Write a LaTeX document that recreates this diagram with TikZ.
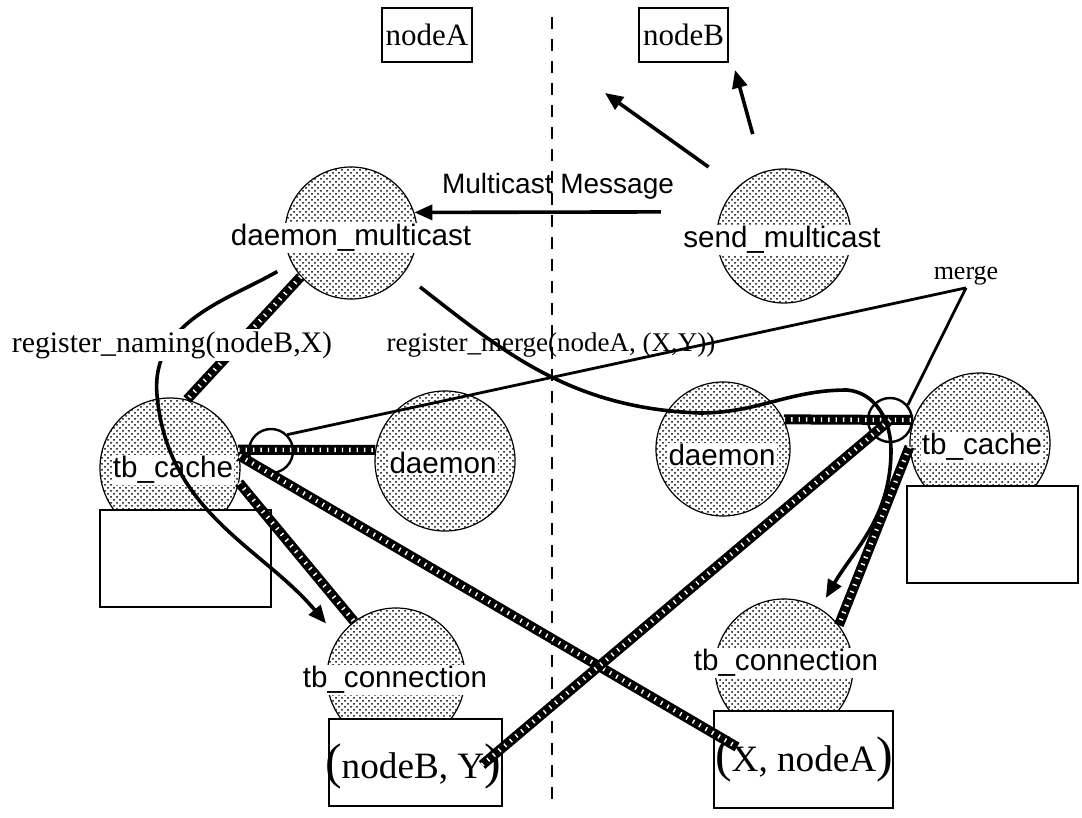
\documentclass[tikz,border=0pt]{standalone}
\usepackage{fontspec}
\setmainfont{Liberation Serif}
\setsansfont{Liberation Sans}
\usetikzlibrary{arrows.meta,patterns}

\tikzset{
  proc/.style={circle, draw, line width=0.6pt, inner sep=0pt, minimum size=#1,
    preaction={fill=white}, pattern=crosshatch dots, pattern color=black},
  proc/.default=70pt,
  plabel/.style={fill=white, inner sep=0.6pt, font=\sffamily\fontsize{14.8}{16}\selectfont},
  store/.style={draw, line width=0.6pt, fill=white, inner sep=0pt},
  join/.style={circle, draw, line width=1.2pt, inner sep=0pt, minimum size=#1},
  hatch/.style={line width=5pt, postaction={draw=white, line width=2.2pt, dash pattern=on 0.7pt off 3pt}},
  flow/.style={line width=1.8pt, -{Triangle[length=9pt,width=7.5pt]}},
  link/.style={line width=1.4pt},
}
\newcommand{\bigp}[1]{{\fontsize{25}{25}\selectfont #1}}

\begin{document}
\begin{tikzpicture}[x=0.5pt,y=0.5pt]
  \useasboundingbox (0,0) rectangle (1082,-818);

  % divider
  \coordinate (divtop) at (552,-17);
  \coordinate (divbot) at (552,-808);
  \draw[line width=0.7pt, dash pattern=on 6pt off 5pt] (divtop) -- (divbot);

  % hosts
  \node[store, minimum width=45pt, minimum height=27pt, font=\fontsize{15.5}{17}\selectfont] (nodeA) at (427,-35) {nodeA};
  \node[store, minimum width=44.5pt, minimum height=27pt, font=\fontsize{15.5}{17}\selectfont] (nodeB) at (683.5,-35) {nodeB};

  % processes
  \node[proc=66pt] (dmc) at (351,-233) {};
  \node[proc=67pt] (smc) at (784,-236) {};
  \node[proc] (cacheL) at (170,-468) {};
  \node[proc] (dmnL) at (445,-461) {};
  \node[proc=67pt] (dmnR) at (723,-449) {};
  \node[proc] (cacheR) at (980,-443) {};
  \node[proc=69pt] (connL) at (396,-677) {};
  \node[proc=69pt] (connR) at (784,-668) {};

  % tables
  \node[store, minimum width=85.5pt, minimum height=48.5pt] (tabL) at (185.5,-558.5) {};
  \node[store, minimum width=85.5pt, minimum height=48.5pt] (tabR) at (992.5,-534.5) {};
  \node[store, minimum width=86.5pt, minimum height=43.5pt] (tupB) at (415.5,-762.5) {};
  \node[store, minimum width=89.5pt, minimum height=48.5pt] (tupX) at (803.5,-759.5) {};
  \node[font=\fontsize{18.6}{20}\selectfont, inner sep=0pt] (tupB-t) at (413,-766)
    {\bigp{(}nodeB, Y\bigp{)}};
  \node[font=\fontsize{18.6}{20}\selectfont, inner sep=0pt] (tupX-t) at (804,-759)
    {\bigp{(}X, nodeA\bigp{)}};

  % process names
  \node[plabel] (dmc-t) at (351,-238) {daemon\_multicast};
  \node[plabel] (smc-t) at (782,-240) {send\_multicast};
  \node[plabel] (cacheL-t) at (173,-470) {tb\_cache};
  \node[plabel] (dmnL-t) at (443,-463) {daemon};
  \node[plabel] (dmnR-t) at (722,-455) {daemon};
  \node[plabel] (cacheR-t) at (982,-447) {tb\_cache};
  \node[plabel] (connL-t) at (395,-680) {tb\_connection};
  \node[plabel] (connR-t) at (786,-663) {tb\_connection};

  % merge points
  \node[join=22pt] (joinL) at (271,-451) {};
  \node[join=22pt] (joinR) at (890,-420) {};
  \node[font=\fontsize{13}{14}\selectfont, inner sep=1pt] (mrg) at (966,-276) {merge};
  \coordinate (xa) at (737,-747);
  \coordinate (yb) at (482,-765);
  \coordinate (toA) at (605,-93);
  \coordinate (toB) at (735,-70);

  % channels
  \draw[hatch] (dmc.221) -- (cacheL.76);
  \draw[hatch] (cacheL.15) -- (dmnL.171);
  \draw[hatch] (cacheL.10) -- (xa);
  \draw[hatch] (cacheL.-12) -- (connL.127);
  \draw[hatch] (dmnR.26) -- (joinR.east);
  \draw[hatch] (joinR.center) -- (yb);
  \draw[hatch] (cacheR.183) -- (connR.38);

  % messages
  \draw[flow, shorten <=17.5pt] (smc.134) -- (toA);
  \draw[flow, shorten <=19.5pt] (smc.108) -- (toB);
  \draw[flow, shorten <=30pt] (smc.159) -- (dmc.18);
  \node[font=\sffamily\fontsize{14}{15}\selectfont] (mcm) at (558,-186) {Multicast Message};
  \draw[link] (joinL.45) -- (mrg.south);
  \draw[link] (mrg.south) -- (joinR.40);
  \draw[flow, shorten <=10.5pt, shorten >=6pt] (dmc.-38) to[out=-38,in=178] (700,-413)
    to[out=0,in=180] (847,-390) to[out=-5,in=90] (891,-450) to[out=-90,in=60] (connR.59);
  \draw[flow, shorten <=8.3pt, shorten >=9.5pt] (dmc.207) to[out=210,in=95] (157,-395)
    to[out=-85,in=130] (connL.146);

  % calls
  \node[font=\fontsize{13.5}{15}\selectfont] (regM) at (551,-345) {register\_merge(nodeA, (X,Y))};
  \node[font=\fontsize{14.9}{16}\selectfont, fill=white, inner sep=1pt] (regN) at (172,-345) {register\_naming(nodeB,X)};
\end{tikzpicture}
\end{document}
